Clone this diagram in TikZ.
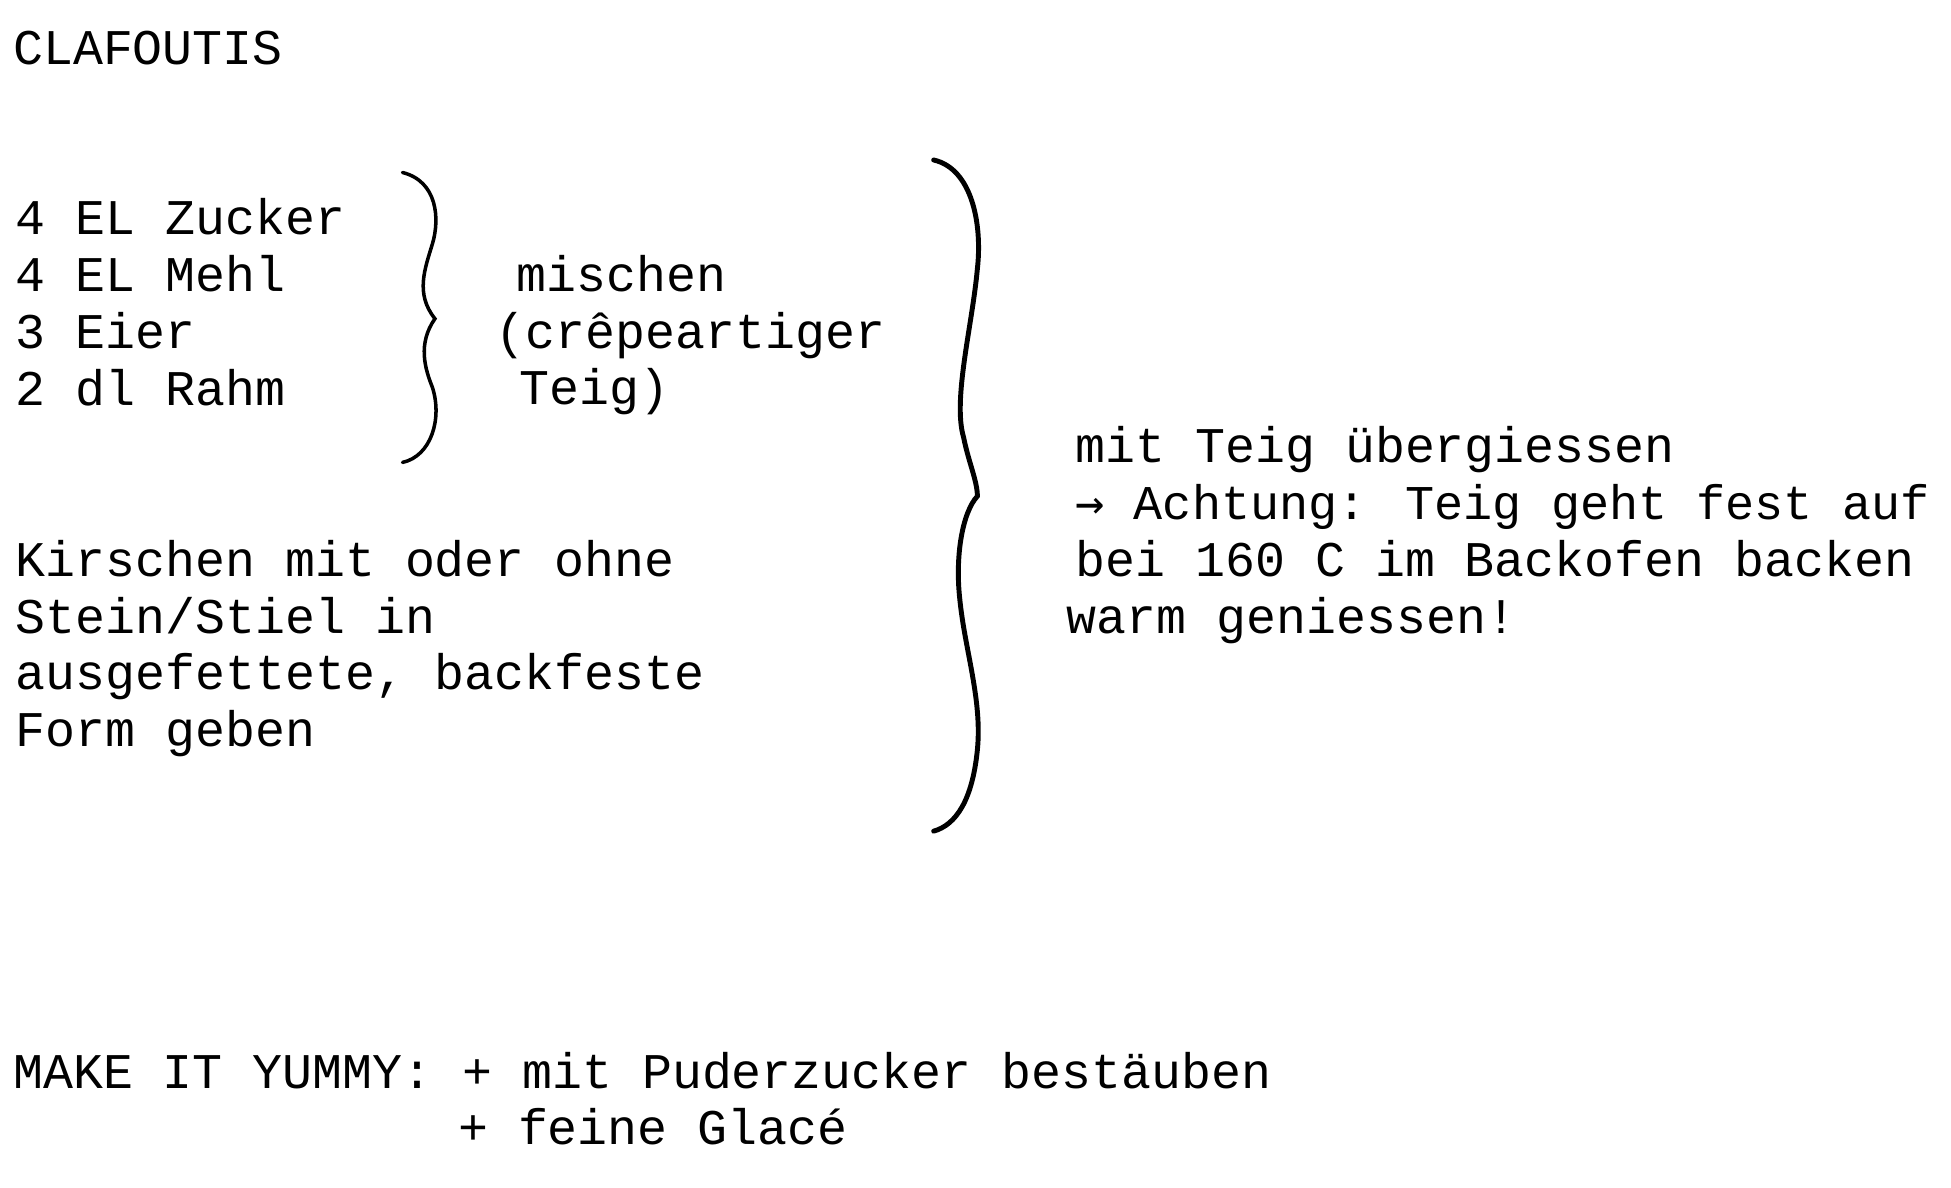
\documentclass[tikz,border=0pt]{standalone}
\usepackage{fontspec}
\setmainfont{Liberation Mono}
\begin{document}
\begin{tikzpicture}[x=0.0125cm,y=-0.0125cm,
    txt/.style={anchor=base west,inner sep=0pt,font=\fontsize{14.2pt}{16pt}\selectfont},
    brace/.style={line width=1.4pt,line cap=round}]
  \useasboundingbox (0,0) rectangle (1561,950);

  \node[txt] (title) at (10,52) {CLAFOUTIS};

  \foreach \t [count=\i] in {4 EL Zucker,4 EL Mehl,3 Eier,2 dl Rahm}
    \node[txt] (ing\i) at (12,{142.5+45.5*\i}) {\t};

  \node[txt] (mix1) at (413,233) {mischen};
  \node[txt] (mix2) at (396,279) {(crêpeartiger};
  \node[txt] (mix3) at (415,324) {Teig)};

  \foreach \t [count=\i] in {Kirschen mit oder ohne,Stein/Stiel in,ausgefettete{,} backfeste,Form geben}
    \node[txt] (form\i) at (12,{415.5+45.5*\i}) {\t};

  \node[txt] (step1) at (860,370) {mit Teig übergiessen};
  \node[txt,font=\fontsize{13.8pt}{16pt}\selectfont] (step2) at (860,416) {{\fontspec{DejaVu Sans Mono}→} Achtung: Teig geht fest auf};
  \node[txt] (step3) at (860,461) {bei 160 C im Backofen backen};
  \node[txt] (step4) at (853,507) {warm geniessen!};

  \node[txt] (yummy1) at (10,871) {MAKE IT YUMMY: + mit Puderzucker bestäuben};
  \node[txt] (yummy2) at (366,916) {+ feine Glacé};

  % small brace
  \draw[brace,line width=1pt] (322,138) .. controls (350,145) and (352,175) .. (346,195)
    .. controls (340,215) and (332,235) .. (348,255)
    .. controls (334,275) and (340,295) .. (346,310)
    .. controls (354,335) and (345,365) .. (322,370);
  % big brace
  \draw[brace] (747,128) .. controls (778,135) and (786,180) .. (782,215)
    .. controls (778,260) and (762,320) .. (771,350)
    .. controls (775,370) and (782,385) .. (782,397)
    .. controls (770,410) and (764,445) .. (768,480)
    .. controls (772,520) and (786,560) .. (782,600)
    .. controls (778,640) and (765,660) .. (747,665);
\end{tikzpicture}
\end{document}
